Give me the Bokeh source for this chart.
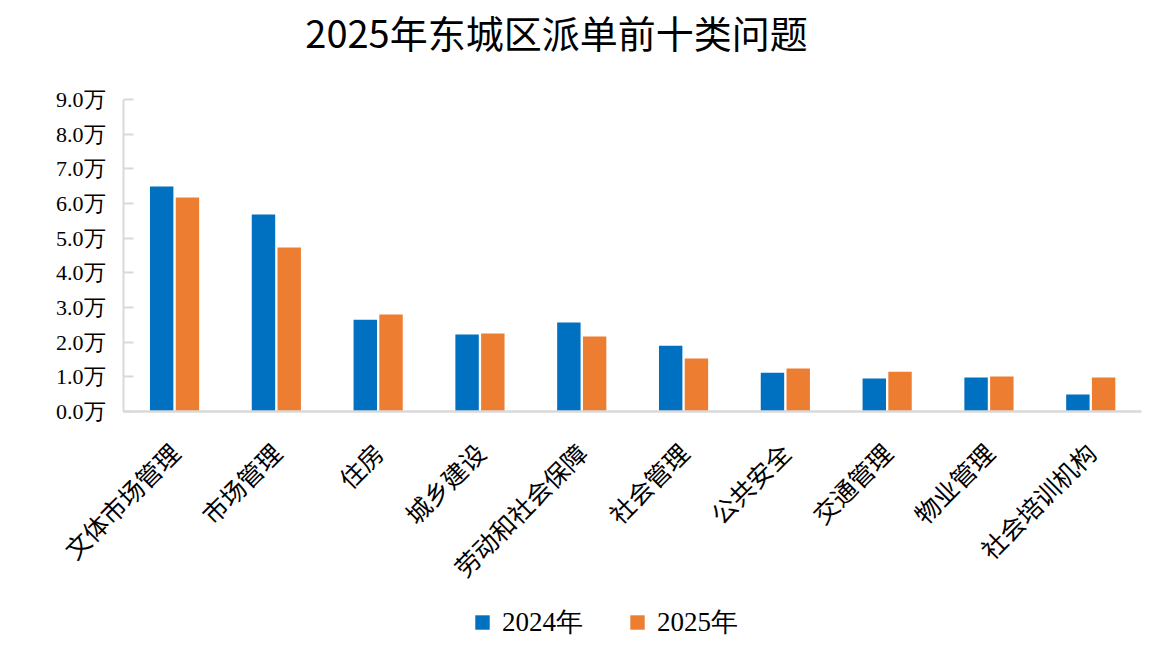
import math
from bokeh.plotting import figure
from bokeh.layouts import column
from bokeh.models import (ColumnDataSource, FactorRange, Range1d, FixedTicker,
                          PrintfTickFormatter, Legend, LegendItem, Label)
from bokeh.transform import dodge
from bokeh.embed import file_html
from bokeh.resources import INLINE

categories = ["文体市场管理", "市场管理", "住房", "城乡建设", "劳动和社会保障",
              "社会管理", "公共安全", "交通管理", "物业管理", "社会培训机构"]
values_2024 = [6.49, 5.68, 2.65, 2.22, 2.57, 1.90, 1.12, 0.95, 0.98, 0.49]
values_2025 = [6.17, 4.73, 2.80, 2.25, 2.16, 1.53, 1.24, 1.15, 1.01, 0.98]
series_names = ["2024年", "2025年"]
y_ticks = [0, 1, 2, 3, 4, 5, 6, 7, 8, 9]
title_text = "2025年东城区派单前十类问题"

BLUE = "#0070C0"
ORANGE = "#ED7D31"
AXIS = "#D9D9D9"

source = ColumnDataSource(dict(cat=categories, v2024=values_2024, v2025=values_2025))

# title strip
p0 = figure(width=1164, height=70, output_backend="svg", toolbar_location=None,
            x_axis_type=None, y_axis_type=None, min_border=0)
p0.outline_line_color = None
p0.xgrid.grid_line_color = None
p0.ygrid.grid_line_color = None
p0.add_layout(Label(x=433, y=39, x_units="screen", y_units="screen",
                    text=title_text, text_align="center", text_baseline="middle",
                    text_font="Noto Sans CJK SC", text_font_size="38px",
                    text_color="#000000"))

p = figure(width=1164, height=530, x_range=FactorRange(*categories, range_padding=0),
           y_range=Range1d(0, 9), output_backend="svg", toolbar_location=None,
           min_border_left=123, min_border_right=23, min_border_top=29,
           min_border_bottom=189)

p.vbar(x=dodge("cat", -0.125, range=p.x_range), top="v2024", width=0.23,
       source=source, fill_color=BLUE, line_color=None)
p.vbar(x=dodge("cat", 0.128, range=p.x_range), top="v2025", width=0.23,
       source=source, fill_color=ORANGE, line_color=None)

p.outline_line_color = None
p.xgrid.grid_line_color = None
p.ygrid.grid_line_color = None

# y axis
p.yaxis.ticker = FixedTicker(ticks=y_ticks)
p.yaxis.formatter = PrintfTickFormatter(format="%.1f万")
p.yaxis.axis_line_color = AXIS
p.yaxis.axis_line_width = 2
p.yaxis.major_tick_line_color = AXIS
p.yaxis.major_tick_line_width = 2
p.yaxis.major_tick_in = 10
p.yaxis.major_tick_out = 0
p.yaxis.minor_tick_line_color = None
p.yaxis.major_label_standoff = 18
p.yaxis.major_label_text_font = "Liberation Serif"
p.yaxis.major_label_text_font_size = "22px"
p.yaxis.major_label_text_color = "#000000"

# x axis
p.xaxis.axis_line_color = AXIS
p.xaxis.axis_line_width = 2.5
p.xaxis.major_tick_line_color = None
p.xaxis.major_tick_in = 0
p.xaxis.major_tick_out = 0
p.xaxis.minor_tick_line_color = None
p.xaxis.major_label_orientation = math.pi / 4
p.xaxis.major_label_standoff = 36
p.xaxis.major_label_text_font = "Noto Sans CJK SC"
p.xaxis.major_label_text_font_size = "25px"
p.xaxis.major_label_text_color = "#000000"

# legend strip (bars fall outside its visible y-range; only the legend shows)
p2 = figure(width=1164, height=40, output_backend="svg", toolbar_location=None,
            x_range=p.x_range, y_range=Range1d(100, 101),
            x_axis_type=None, y_axis_type=None, min_border=0)
p2.outline_line_color = None
p2.xgrid.grid_line_color = None
p2.ygrid.grid_line_color = None
g1 = p2.vbar(x="cat", top="v2024", width=0.2, source=source,
             fill_color=BLUE, line_color=None)
g2 = p2.vbar(x="cat", top="v2025", width=0.2, source=source,
             fill_color=ORANGE, line_color=None)

legend = Legend(items=[LegendItem(label=series_names[0], renderers=[g1]),
                       LegendItem(label=series_names[1], renderers=[g2])],
                location=(350, 0), orientation="horizontal")
legend.border_line_color = None
legend.background_fill_alpha = 0
legend.padding = 0
legend.margin = 0
legend.spacing = 45
legend.glyph_width = 18
legend.glyph_height = 18
legend.label_standoff = 11
legend.label_text_font = "Liberation Serif"
legend.label_text_font_size = "27px"
legend.label_text_color = "#000000"
p2.add_layout(legend, "center")

layout = column(p0, p, p2, spacing=0)
open("out.html", "w").write(file_html(layout, INLINE))
